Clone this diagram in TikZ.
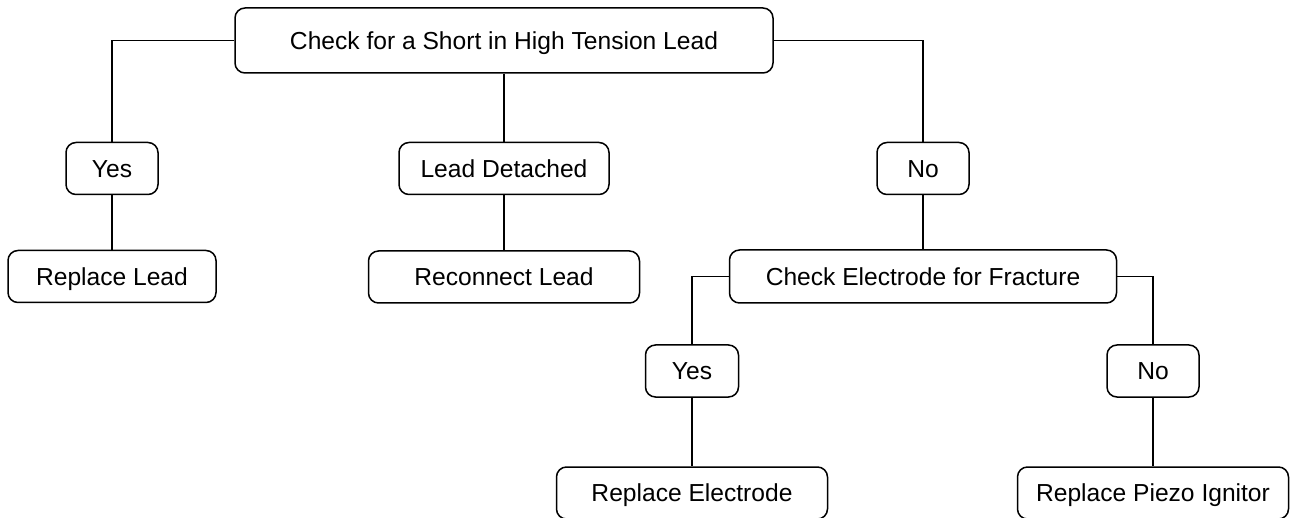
\documentclass[tikz,border=0pt]{standalone}
\usepackage{fontspec}
\setmainfont{Liberation Sans}
\usetikzlibrary{positioning}

\begin{document}
\begin{tikzpicture}[x=0.5pt,y=-0.5pt,line width=0.75pt,
	box/.style={draw,rounded corners=5pt,inner sep=0pt,minimum height=26pt,text height=8.8pt,text depth=0pt,font=\fontsize{12.3}{14}\selectfont}]
	\useasboundingbox (0,0) rectangle (1291,518);
	\node[box,minimum width=269pt,minimum height=32.5pt] (short) at (504,40.5) {Check for a Short in High Tension Lead};
	\node[box,minimum width=46pt] (yesA) at (112,168.5) {Yes};
	\node[box,minimum width=105pt] (detached) at (504,168.5) {Lead Detached};
	\node[box,minimum width=46pt] (noA) at (923,168.5) {No};
	\node[box,minimum width=104pt] (replead) at (112,276.5) {Replace Lead};
	\node[box,minimum width=135.5pt] (reconnect) at (504,277) {Reconnect Lead};
	\node[box,minimum width=193.5pt,minimum height=26.5pt] (fracture) at (923,276.5) {Check Electrode for Fracture};
	\node[box,minimum width=46.5pt] (yesB) at (692,371) {Yes};
	\node[box,minimum width=46pt] (noB) at (1153,371) {No};
	\node[box,minimum width=135.5pt] (electrode) at (692,493) {Replace Electrode};
	\node[box,minimum width=135.5pt] (piezo) at (1153,493) {Replace Piezo Ignitor};
	\draw (short.west) -| (yesA.north);
	\draw (short.south) -- (detached.north);
	\draw (short.east) -| (noA.north);
	\draw (yesA.south) -- (replead.north);
	\draw (detached.south) -- (reconnect.north);
	\draw (noA.south) -- (fracture.north);
	\draw (fracture.west) -| (yesB.north);
	\draw (fracture.east) -| (noB.north);
	\draw (yesB.south) -- (electrode.north);
	\draw (noB.south) -- (piezo.north);
\end{tikzpicture}
\end{document}
